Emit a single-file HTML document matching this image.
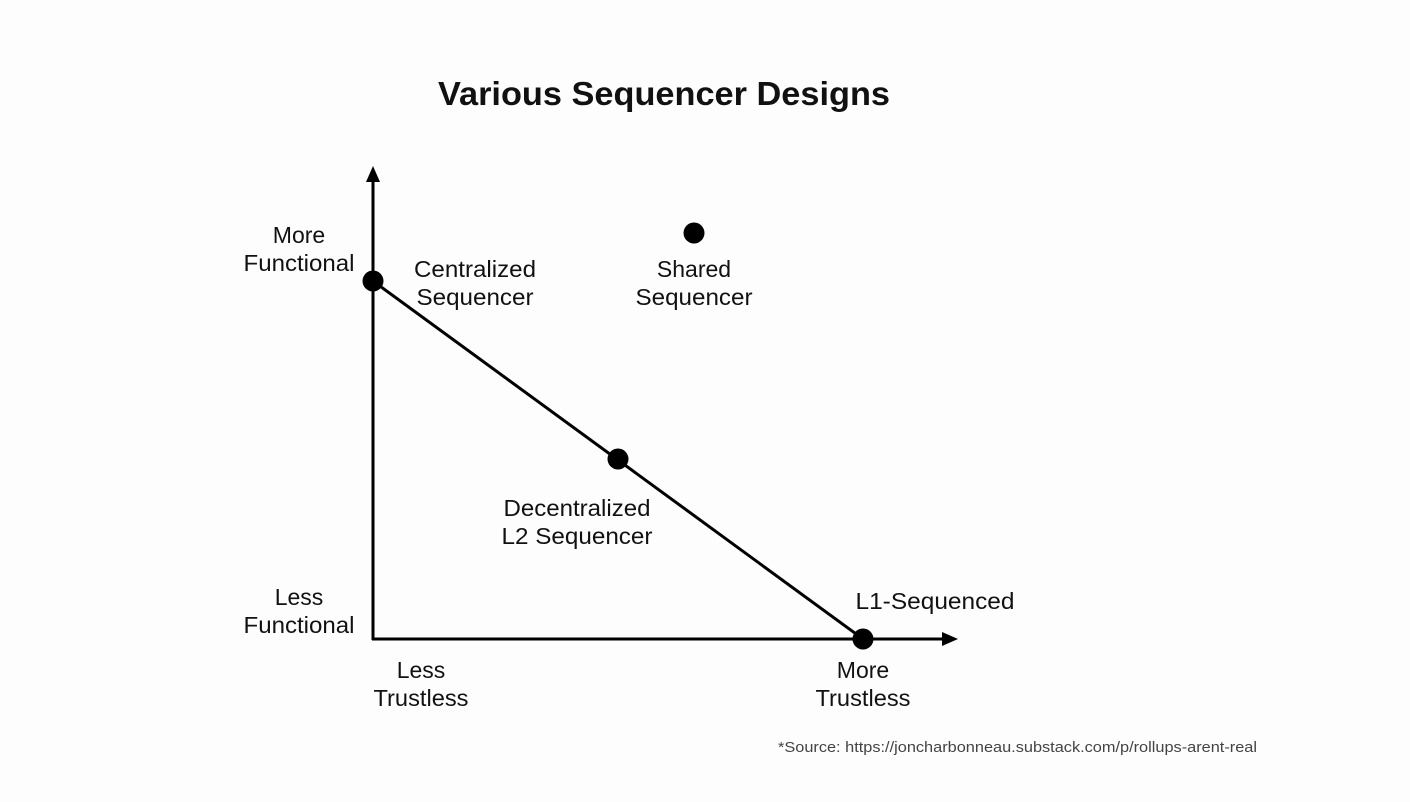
<!DOCTYPE html>
<html><head><meta charset="utf-8"><style>
html,body{margin:0;padding:0;background:#fdfdfd;}
svg{display:block;}
text{font-family:"Liberation Sans",Arial,sans-serif;fill:#111;}
</style></head><body>
<svg width="1410" height="802" viewBox="0 0 1410 802" xmlns="http://www.w3.org/2000/svg">
<rect width="1410" height="802" fill="#fdfdfd"/>
<text x="438" y="105" font-size="33" font-weight="bold" textLength="452" lengthAdjust="spacingAndGlyphs">Various Sequencer Designs</text>
<g stroke="#000" stroke-width="3" fill="none">
<line x1="373" y1="180" x2="373" y2="640"/>
<line x1="372" y1="639" x2="945" y2="639"/>
<line x1="373" y1="281" x2="863" y2="639"/>
</g>
<polygon points="373,166 366,182 380,182" fill="#000"/>
<polygon points="958,639 942,632 942,646" fill="#000"/>
<g fill="#000">
<circle cx="373" cy="281" r="10.5"/>
<circle cx="618" cy="459" r="10.5"/>
<circle cx="863" cy="639" r="10.5"/>
<circle cx="694" cy="233" r="10.5"/>
</g>
<g font-size="23" text-anchor="middle">
<text x="299" y="243">More</text>
<text x="299" y="271" textLength="111" lengthAdjust="spacingAndGlyphs">Functional</text>
<text x="299" y="605">Less</text>
<text x="299" y="633" textLength="111" lengthAdjust="spacingAndGlyphs">Functional</text>
<text x="475" y="277" textLength="122" lengthAdjust="spacingAndGlyphs">Centralized</text>
<text x="475" y="305" textLength="117" lengthAdjust="spacingAndGlyphs">Sequencer</text>
<text x="694" y="277">Shared</text>
<text x="694" y="305" textLength="117" lengthAdjust="spacingAndGlyphs">Sequencer</text>
<text x="577" y="516" textLength="147" lengthAdjust="spacingAndGlyphs">Decentralized</text>
<text x="577" y="544" textLength="151" lengthAdjust="spacingAndGlyphs">L2 Sequencer</text>
<text x="935" y="609" textLength="159" lengthAdjust="spacingAndGlyphs">L1-Sequenced</text>
<text x="421" y="678">Less</text>
<text x="421" y="706" textLength="95" lengthAdjust="spacingAndGlyphs">Trustless</text>
<text x="863" y="678">More</text>
<text x="863" y="706" textLength="95" lengthAdjust="spacingAndGlyphs">Trustless</text>
</g>
<text x="778" y="752" font-size="15" fill="#444" style="fill:#444" textLength="479" lengthAdjust="spacingAndGlyphs">*Source: https://joncharbonneau.substack.com/p/rollups-arent-real</text>
</svg>
</body></html>
